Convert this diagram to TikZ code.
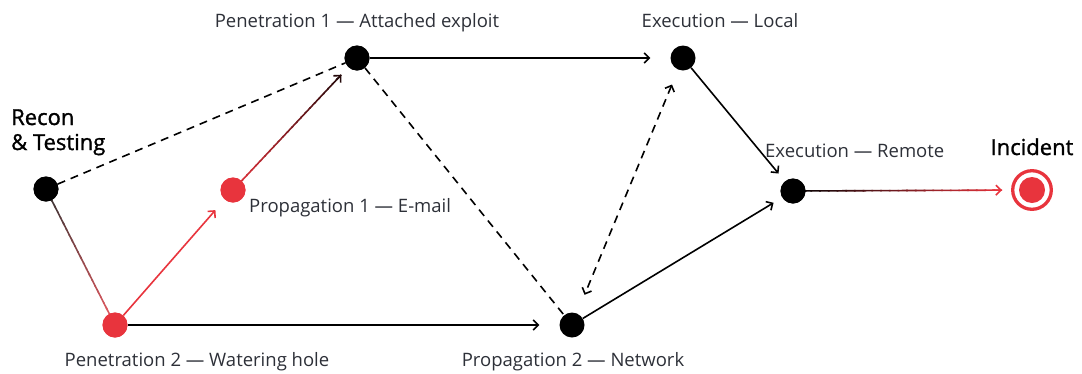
\documentclass[tikz,border=0pt]{standalone}
\usepackage{fontspec}
\setmainfont{Open Sans}
\newfontfamily\medfont[FakeBold=1.2]{Open Sans}
\usetikzlibrary{arrows.meta,calc}
\definecolor{kred}{RGB}{232,52,61}
\definecolor{ktext}{RGB}{45,48,56}
\newcommand\gradsegs[4]{%
  \foreach \k in {0,...,23}{%
    \pgfmathsetmacro\ta{\k/24}%
    \pgfmathsetmacro\tb{min(1,(\k+1.2)/24)}%
    \pgfmathtruncatemacro\pc{100*(\k+0.5)/24}%
    \draw[line width=1.6pt, color=#4!\pc!#3] ($(#1)!\ta!(#2)$) -- ($(#1)!\tb!(#2)$);
  }}
\tikzset{
  dot/.style={circle, fill=black, minimum size=25pt, inner sep=0pt},
  rdot/.style={circle, fill=kred, minimum size=25pt, inner sep=0pt},
  lbl/.style={text=ktext, font=\fontsize{18.5}{22}\selectfont, inner sep=0pt, anchor=base},
  big/.style={text=black, font=\fontsize{22}{26}\selectfont\medfont, inner sep=0pt, anchor=base west},
  arr/.style={line width=1.6pt, -{Straight Barb[length=5pt,width=10pt]}},
  dashedge/.style={line width=1.6pt, dash pattern=on 8pt off 6pt},
}
\begin{document}
\begin{tikzpicture}[x=1pt,y=-1pt]
\useasboundingbox (0,0) rectangle (1082,373);
% nodes
\node[dot] (R) at (46,189) {};
\node[rdot] (W) at (115,325) {};
\node[rdot] (P1) at (233,190) {};
\node[dot] (A) at (357,58) {};
\node[dot] (L) at (683,58) {};
\node[dot] (N) at (572,325) {};
\node[dot] (E) at (793,191) {};
\node[circle, draw=kred, line width=3.3pt, minimum size=38.6pt, inner sep=0pt] (I) at (1032,190) {};
\node[circle, fill=kred, minimum size=26pt, inner sep=0pt] (Ic) at (I.center) {};
% connectors
\draw[dashedge] (R) -- (A);
\draw[dashedge] (A) -- (N);
\draw[dashedge, {Straight Barb[length=5pt,width=10pt]}-{Straight Barb[length=5pt,width=10pt]}, shorten <=16pt, shorten >=20pt] (L) -- (N);
\draw[arr, shorten >=20pt] (A) -- (L);
\draw[arr, shorten >=20pt] (W) -- (N);
\draw[arr, shorten >=10pt] (L) -- (E);
\draw[arr, shorten >=10pt] (N) -- (E);
\draw[arr, kred, shorten >=14pt] (W) -- (P1);
% gradient R--W
\gradsegs{R.center}{W.center}{black!80}{kred}
% gradient P1 -> A
\coordinate (pa) at ($(A)!23pt!(P1)$);
\gradsegs{P1.center}{pa}{kred}{black!85!kred}
\draw[arr, black!85!kred] ($(A)!30pt!(P1)$) -- (pa);
% gradient E -> I
\coordinate (ei) at ($(I)!30pt!(E)$);
\gradsegs{E.center}{ei}{black}{kred}
\draw[arr, kred] ($(I)!40pt!(E)$) -- (ei);
% redraw dots on top
\node[dot] at (R) {};
\node[rdot] at (W) {};
\node[rdot] at (P1) {};
\node[dot] at (A) {};
\node[dot] at (E) {};
% labels
\node[big] (tR1) at (11,125) {Recon};
\node[big] (tR2) at (11,150) {\& Testing};
\node[big, anchor=base] (tI) at (1032,155) {Incident};
\node[lbl] (tA) at (357,27) {Penetration 1 — Attached exploit};
\node[lbl] (tL) at (720,27) {Execution — Local};
\node[lbl, anchor=base west] (tP1) at (249,212) {Propagation 1 — E-mail};
\node[lbl, anchor=base west] (tE) at (765,157) {Execution — Remote};
\node[lbl] (tW) at (197,366) {Penetration 2 — Watering hole};
\node[lbl] (tN) at (573,366) {Propagation 2 — Network};
\end{tikzpicture}
\end{document}
